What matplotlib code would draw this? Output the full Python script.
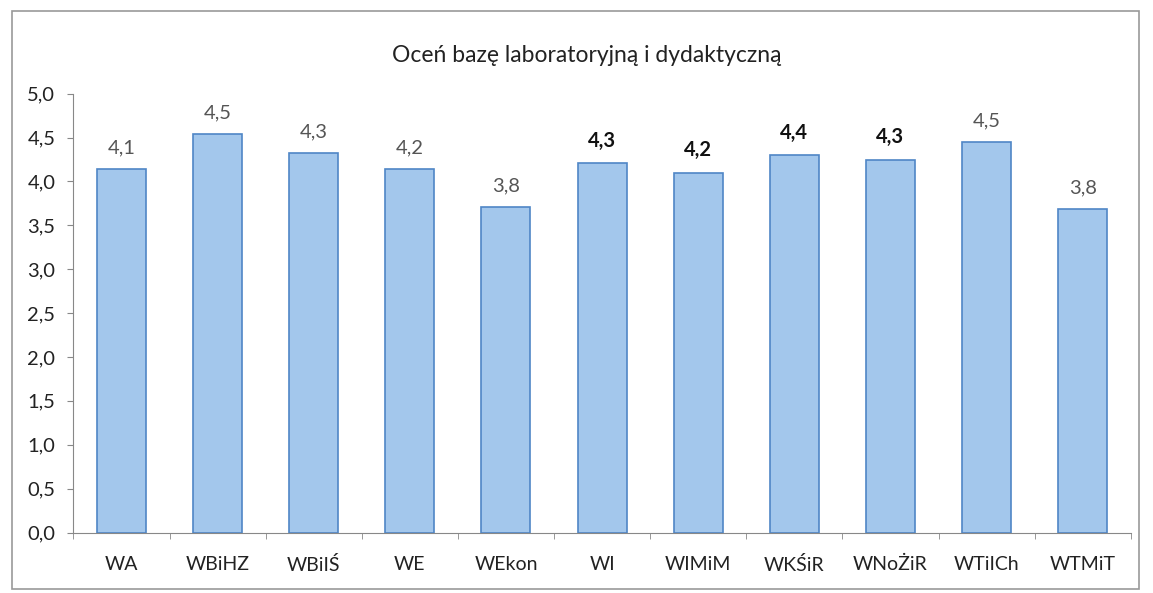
import numpy as np
import matplotlib
matplotlib.use("Agg")
import matplotlib.pyplot as plt
from matplotlib.patches import Rectangle

plt.rcParams['font.family'] = ['Lato', 'DejaVu Sans']

faculties = ["WA", "WBiHZ", "WBiIŚ", "WE", "WEkon", "WI", "WIMiM", "WKŚiR", "WNoŻiR", "WTiICh", "WTMiT"]
# bar heights
scores = [4.14, 4.54, 4.32, 4.14, 3.71, 4.21, 4.10, 4.30, 4.25, 4.45, 3.69]
# printed labels (they do not always match the bars)
value_labels = ["4,1", "4,5", "4,3", "4,2", "3,8", "4,3", "4,2", "4,4", "4,3", "4,5", "3,8"]
bold_labels = [False, False, False, False, False, True, True, True, True, False, False]
yticks = [0.0, 0.5, 1.0, 1.5, 2.0, 2.5, 3.0, 3.5, 4.0, 4.5, 5.0]

fig = plt.figure(figsize=(11.53, 5.93), dpi=100)
ax = fig.add_axes([0.0637, 0.102, 0.917, 0.740])

x = np.arange(len(faculties))
ax.bar(x, scores, width=0.51, color="#a3c7ec", edgecolor="#4f86c6", linewidth=1.2, zorder=2)

for xi, s, lab, b in zip(x, scores, value_labels, bold_labels):
    ax.annotate(lab, (xi, s), xytext=(0, 9), textcoords="offset points",
                ha="center", va="bottom", fontsize=14.5,
                fontweight="bold" if b else "normal",
                color="#111111" if b else "#555555")

ax.set_xlim(-0.5, len(faculties) - 0.5)
ax.set_ylim(0, 5)
ax.set_yticks(yticks)
ax.set_yticklabels([f"{v:.1f}".replace(".", ",") for v in yticks], fontsize=14.5, color="#222222")
ax.set_xticks(x)
ax.set_xticklabels(faculties, fontsize=14, color="#222222")
ax.set_xticks(np.arange(-0.5, len(faculties)), minor=True)
ax.tick_params(axis="x", which="major", length=0, pad=17)
ax.tick_params(axis="x", which="minor", length=4, color="#888888", direction="out")
ax.tick_params(axis="y", length=4, color="#888888", direction="out", pad=9)

for side in ["top", "right"]:
    ax.spines[side].set_visible(False)
ax.spines["left"].set_color("#888888")
ax.spines["bottom"].set_color("#888888")

fig.text(0.509, 0.907, "Oceń bazę laboratoryjną i dydaktyczną", ha="center", va="center",
         fontsize=16.5, color="#222222")

# outer frame of the chart
fig.patches.append(Rectangle((0.010, 0.006), 0.978, 0.975, transform=fig.transFigure,
                             fill=False, edgecolor="#999999", linewidth=1.2))

fig.savefig("out.png", dpi=100)
